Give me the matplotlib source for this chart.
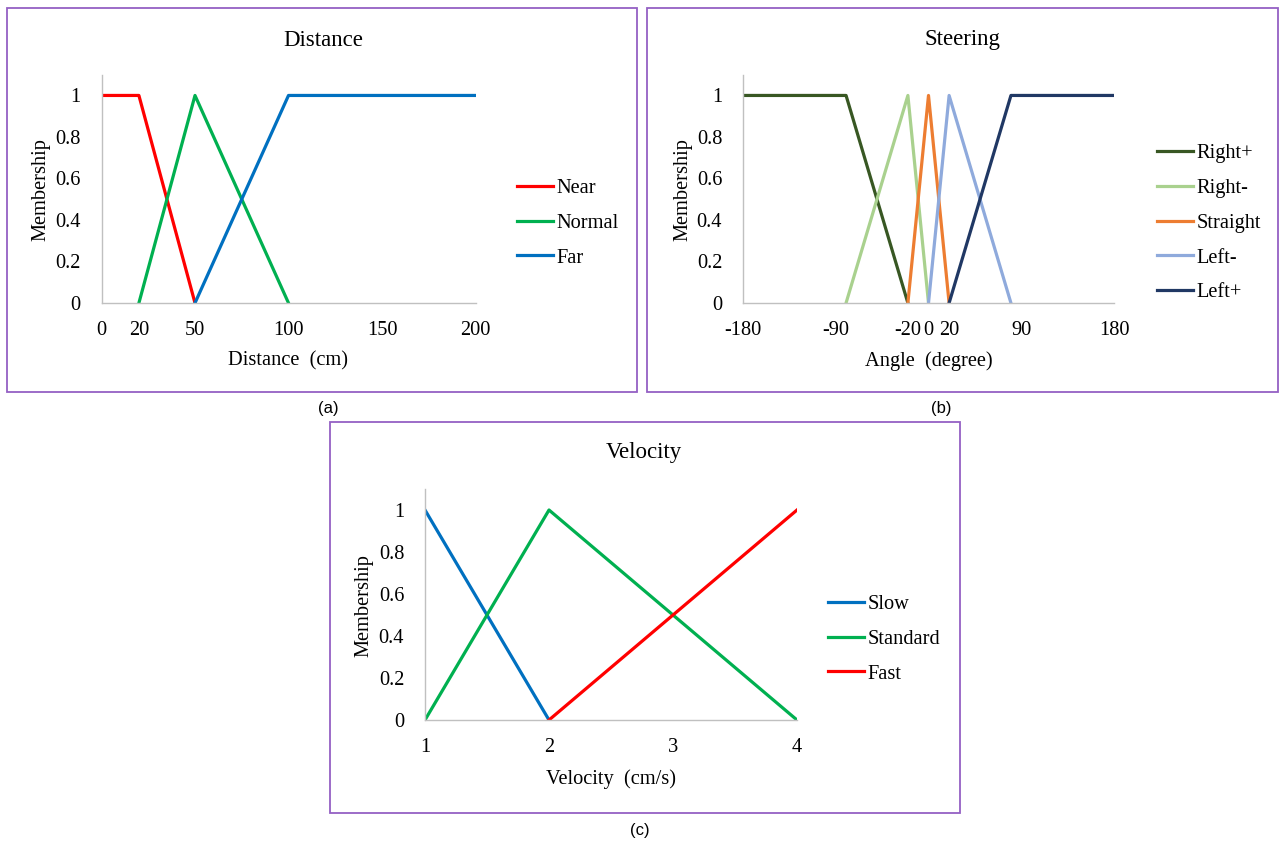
import matplotlib
matplotlib.use("Agg")
import matplotlib.pyplot as plt
from matplotlib.patches import Rectangle
from matplotlib.ticker import FixedLocator, FuncFormatter

# ---- membership function data ----
dist_ticks = [0, 20, 50, 100, 150, 200]
near_x, near_y = [0, 20, 50], [1, 1, 0]
normal_x, normal_y = [20, 50, 100], [0, 1, 0]
far_x, far_y = [50, 100, 200], [0, 1, 1]

angle_ticks = [-180, -90, -20, 0, 20, 90, 180]
rplus_x, rplus_y = [-180, -80, -20], [1, 1, 0]
rminus_x, rminus_y = [-80, -20, 0], [0, 1, 0]
straight_x, straight_y = [-20, 0, 20], [0, 1, 0]
lminus_x, lminus_y = [0, 20, 80], [0, 1, 0]
lplus_x, lplus_y = [20, 80, 180], [0, 1, 1]

vel_ticks = [1, 2, 3, 4]
slow_x, slow_y = [1, 2], [1, 0]
standard_x, standard_y = [1, 2, 4], [0, 1, 0]
fast_x, fast_y = [2, 4], [0, 1]

y_ticks = [0, 0.2, 0.4, 0.6, 0.8, 1]

W, H = 1280, 843
SERIF = ["Liberation Serif", "DejaVu Serif"]
SANS = ["Liberation Sans", "DejaVu Sans"]
plt.rcParams["font.family"] = SERIF
plt.rcParams["axes.unicode_minus"] = False

fig = plt.figure(figsize=(W / 100, H / 100), dpi=100)

FS = 14.7


def px_axes(x0, x1, y_top, y_zero):
    """Axes placed by pixel edges (y measured from top of the figure)."""
    return fig.add_axes([x0 / W, (H - y_zero) / H, (x1 - x0) / W, (y_zero - y_top) / H])


def frame(x0, y0, x1, y1):
    fig.add_artist(Rectangle((x0 / W, (H - y1) / H), (x1 - x0) / W, (y1 - y0) / H,
                             transform=fig.transFigure, fill=False,
                             edgecolor="#9460C4", linewidth=1.3))


def style(ax, xlim, xticks, xlabel, legend_x):
    ax.set_xlim(*xlim)
    ax.set_ylim(0, 1.1)
    for s in ("top", "right"):
        ax.spines[s].set_visible(False)
    for s in ("left", "bottom"):
        ax.spines[s].set_color("#C0C0C0")
        ax.spines[s].set_linewidth(1.0)
    ax.xaxis.set_major_locator(FixedLocator(xticks))
    ax.yaxis.set_major_locator(FixedLocator(y_ticks))
    ax.yaxis.set_major_formatter(FuncFormatter(lambda v, p: f"{v:g}"))
    ax.tick_params(axis="x", length=0, pad=13, labelsize=FS)
    ax.tick_params(axis="y", length=0, pad=15, labelsize=FS)
    ax.text(0.5, -0.255, xlabel, transform=ax.transAxes, ha="center", va="center", fontsize=FS)
    ax.text(-0.163, 0.497, "Membership", transform=ax.transAxes, rotation=90,
            ha="center", va="center", fontsize=FS)
    ax.legend(loc="center left", bbox_to_anchor=(legend_x, 0.35), frameon=False,
              fontsize=FS, handlelength=1.75, handletextpad=0.2, labelspacing=0.76,
              borderpad=0, borderaxespad=0)


LW = 2.3

# (a) Distance
frame(7, 8, 637, 392)
ax1 = px_axes(101.5, 475.5, 74.7, 303)
ax1.plot(near_x, near_y, color="#FF0000", lw=LW, label="Near")
ax1.plot(normal_x, normal_y, color="#00B050", lw=LW, label="Normal")
ax1.plot(far_x, far_y, color="#0070C0", lw=LW, label="Far")
style(ax1, (0, 200), dist_ticks, "Distance  (cm)", 1.111)
fig.text(323 / W, 1 - 40 / H, "Distance", ha="center", va="center", fontsize=16.5)
fig.text(328 / W, 1 - 408 / H, "(a)", ha="center", va="center", fontsize=12, family=SANS)

# (b) Steering
frame(647, 8, 1278, 392)
ax2 = px_axes(743, 1114, 74.7, 303)
ax2.plot(rplus_x, rplus_y, color="#385723", lw=LW, label="Right+")
ax2.plot(rminus_x, rminus_y, color="#A9D18E", lw=LW, label="Right-")
ax2.plot(straight_x, straight_y, color="#ED7D31", lw=LW, label="Straight")
ax2.plot(lminus_x, lminus_y, color="#8FAADC", lw=LW, label="Left-")
ax2.plot(lplus_x, lplus_y, color="#203864", lw=LW, label="Left+")
style(ax2, (-180, 180), angle_ticks, "Angle  (degree)", 1.116)
fig.text(962 / W, 1 - 40 / H, "Steering", ha="center", va="center", fontsize=16.5)
fig.text(941 / W, 1 - 408 / H, "(b)", ha="center", va="center", fontsize=12, family=SANS)

# (c) Velocity
frame(330, 422, 960, 813)
ax3 = px_axes(425, 797, 489, 720)
ax3.plot(slow_x, slow_y, color="#0070C0", lw=LW, label="Slow")
ax3.plot(standard_x, standard_y, color="#00B050", lw=LW, label="Standard")
ax3.plot(fast_x, fast_y, color="#FF0000", lw=LW, label="Fast")
style(ax3, (1, 4), vel_ticks, "Velocity  (cm/s)", 1.083)
fig.text(644 / W, 1 - 452 / H, "Velocity", ha="center", va="center", fontsize=16.5)
fig.text(640 / W, 1 - 830 / H, "(c)", ha="center", va="center", fontsize=12, family=SANS)

fig.savefig("out.png", dpi=100)
